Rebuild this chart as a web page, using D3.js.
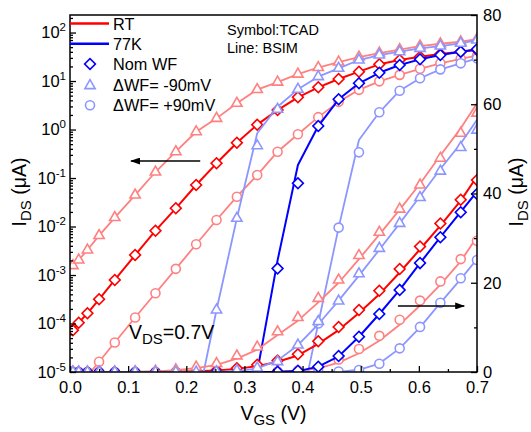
<!DOCTYPE html>
<html>
<head>
<meta charset="utf-8">
<script src="https://cdn.jsdelivr.net/npm/d3@7"></script>
<style>
body { margin: 0; background: #fff; }
svg { font-family: "Liberation Sans", Arial, sans-serif; }
</style>
</head>
<body>
<svg width="531" height="432"></svg>
<script>
// VGS sweep points (V), shared by every curve
var vgs = [0.005, 0.015, 0.03, 0.05, 0.077, 0.112, 0.147, 0.182, 0.217, 0.252, 0.287, 0.322,
    0.357, 0.392, 0.427, 0.462, 0.497, 0.532, 0.567, 0.602, 0.637, 0.672, 0.70];

// left axis (log scale), IDS in uA. TCAD = symbols, BSIM = lines
var logRtNom = [7.3e-5, 1.04e-4, 1.62e-4, 3.15e-4, 7.9e-4, 2.58e-3, 8.2e-3, 0.0237, 0.0718, 0.201, 0.535, 1.26,
    2.52, 4.61, 7.42, 11.0, 15.6, 22.1, 27.1, 31.7, 36.1, 40.2, 43.6];
var logRtNomLine = logRtNom;
var logRtM90 = [1.56e-3, 2.04e-3, 3.28e-3, 6.5e-3, 0.0153, 0.0446, 0.133, 0.349, 0.90, 1.70, 3.47, 6.68,
    9.5, 13.9, 19.0, 24.6, 31.2, 37.8, 44.6, 52.7, 58.7, 64.6, 73.4];
var logRtM90Line = logRtM90;
var logRtP90 = [3.5e-6, 5e-6, 8.3e-6, 1.63e-5, 4.06e-5, 1.33e-4, 4.2e-4, 1.34e-3, 4.3e-3, 0.0136, 0.0412, 0.115,
    0.349, 0.80, 1.80, 3.72, 6.59, 9.86, 13.4, 17.9, 23.2, 28.7, 33.3];
var logRtP90Line = logRtP90;
var log77Nom = [1e-8, 1e-8, 1e-8, 1e-8, 1e-8, 1e-8, 1e-8, 1e-8, 1e-8, 1e-8, 1e-8, 1e-8,
    1.37e-3, 0.0778, 1.18, 4.20, 8.97, 14.8, 21.4, 28.0, 34.4, 40.2, 45.0];
var log77NomLine = [1e-8, 1e-8, 1e-8, 1e-8, 1e-8, 1e-8, 1e-8, 1e-8, 1e-8, 1e-8, 1e-8, 1e-5,
    2.0e-3, 0.185, 1.18, 4.20, 8.97, 14.8, 21.4, 28.0, 34.4, 40.2, 45.0];
var log77M90 = [1e-8, 1e-8, 1e-8, 1e-8, 1e-8, 1e-8, 1e-8, 1e-8, 1.8e-6, 1.9e-4, 0.0148, 0.463,
    2.61, 6.75, 12.3, 18.3, 27.1, 34.4, 40.2, 47.2, 52.7, 59.9, 70.0];
var log77M90Line = [1e-8, 1e-8, 1e-8, 1e-8, 1e-8, 1e-8, 1e-8, 1e-8, 1.8e-6, 1.9e-4, 0.0148, 0.835,
    2.95, 6.75, 12.3, 18.3, 27.1, 34.4, 40.2, 47.2, 52.7, 59.9, 70.0];
var log77P90 = [1e-8, 1e-8, 1e-8, 1e-8, 1e-8, 1e-8, 1e-8, 1e-8, 1e-8, 1e-8, 1e-8, 1e-8,
    1e-8, 1.05e-6, 1.0e-4, 9.5e-3, 0.339, 2.27, 6.31, 11.4, 17.4, 23.2, 29.4];
var log77P90Line = [1e-8, 1e-8, 1e-8, 1e-8, 1e-8, 1e-8, 1e-8, 1e-8, 1e-8, 1e-8, 1e-8, 1e-8,
    1e-8, 1.05e-6, 1.0e-4, 9.5e-3, 0.608, 2.27, 6.31, 11.4, 17.4, 23.2, 29.4];

// right axis (linear scale), IDS in uA
var linRtNom = [0, 0, 0, 0, 0, 0, 0.04, 0.1, 0.2, 0.4, 0.83, 1.6,
    2.6, 4.0, 6.9, 10.1, 13.9, 18.2, 23.1, 28.1, 33.3, 38.6, 43.0];
var linRtNomLine = [0, 0, 0, 0, 0, 0, 0.03, 0.08, 0.18, 0.36, 0.7, 1.3,
    2.3, 3.7, 6.3, 9.4, 13.2, 17.4, 22.3, 27.5, 32.8, 38.4, 43.8];
var linRtM90 = [0, 0, 0, 0, 0, 0.05, 0.2, 0.5, 1.1, 1.9, 3.6, 5.6,
    9.0, 12.2, 16.5, 20.6, 26.1, 31.3, 36.5, 41.9, 47.9, 53.5, 58.0];
var linRtM90Line = [0, 0, 0, 0, 0.01, 0.04, 0.15, 0.4, 0.85, 1.6, 3.0, 5.0,
    8.3, 11.5, 15.6, 20.0, 25.3, 30.8, 36.4, 42.2, 48.5, 54.6, 60.2];
var linRtP90 = [0, 0, 0, 0, 0, 0, 0, 0, 0, 0, 0, 0.05,
    0.1, 0.3, 0.85, 2.8, 5.15, 8.1, 11.7, 16.0, 20.3, 25.3, 29.4];
var linRtP90Line = [0, 0, 0, 0, 0, 0, 0, 0, 0, 0, 0, 0.02,
    0.08, 0.25, 0.8, 2.1, 4.2, 7.0, 10.6, 14.9, 19.6, 24.8, 30.3];
var lin77Nom = [0, 0, 0, 0, 0, 0, 0, 0, 0, 0, 0, 0,
    0.05, 0.3, 1.19, 3.59, 7.9, 13.0, 18.4, 24.4, 30.2, 35.8, 39.9];
var lin77NomLine = [0, 0, 0, 0, 0, 0, 0, 0, 0, 0, 0, 0,
    0.03, 0.2, 1.2, 3.5, 7.9, 13.0, 18.4, 24.4, 30.2, 35.9, 40.4];
var lin77M90 = [0, 0, 0, 0, 0, 0, 0, 0, 0, 0.05, 0.3, 0.9,
    2.31, 6.05, 11.3, 15.9, 22.0, 27.7, 33.3, 39.1, 45.0, 50.3, 54.2];
var lin77M90Line = [0, 0, 0, 0, 0, 0, 0, 0, 0, 0.02, 0.2, 0.8,
    2.6, 6.0, 10.7, 16.0, 21.6, 27.4, 33.3, 39.4, 45.5, 51.2, 56.5];
var lin77P90 = [0, 0, 0, 0, 0, 0, 0, 0, 0, 0, 0, 0,
    0, 0, 0, 0.1, 0.45, 1.84, 5.3, 10.1, 15.5, 21.0, 25.1];
var lin77P90Line = [0, 0, 0, 0, 0, 0, 0, 0, 0, 0, 0, 0,
    0, 0, 0, 0.05, 0.5, 1.9, 5.3, 10.0, 15.5, 20.8, 25.3];

// tick labels
var xTicks = [0, 0.1, 0.2, 0.3, 0.4, 0.5, 0.6, 0.7];
var xMinor = [0.05, 0.15, 0.25, 0.35, 0.45, 0.55, 0.65];
var logTicks = [1e-5, 1e-4, 1e-3, 1e-2, 1e-1, 1, 10, 100];
var linTicks = [0, 20, 40, 60, 80];
var linMinor = [10, 30, 50, 70];

// legend entries
var legendLines = ["RT", "77K"];
var legendSymbols = ["Nom WF", "\u0394WF= -90mV", "\u0394WF= +90mV"];

var red = "#ff0000", blue = "#0000ff", lightRed = "#ff8080", lightBlue = "#8c96ff";

//plot area
var plotL = 70, plotR = 477, plotT = 15, plotB = 372;

var x = d3.scaleLinear().domain([0, 0.7]).range([plotL, plotR]);
var yLog = d3.scaleLog().domain([1e-5, 230]).range([plotB, plotT]);
var yLin = d3.scaleLinear().domain([0, 80]).range([plotB, plotT]);

var svg = d3.select("svg");

svg.append("defs").append("clipPath").attr("id", "clip")
    .append("rect")
    .attr("x", plotL).attr("y", plotT)
    .attr("width", plotR - plotL).attr("height", plotB - plotT);

svg.select("defs").append("marker")
    .attr("id", "head")
    .attr("markerUnits", "userSpaceOnUse")
    .attr("markerWidth", 10).attr("markerHeight", 7)
    .attr("refX", 9).attr("refY", 3.5)
    .attr("orient", "auto")
    .append("path").attr("d", "M0,0L10,3.5L0,7Z").attr("fill", "#000");

var shapes = {
    circle: d3.symbol().type(d3.symbolCircle).size(64),
    diamond: d3.symbol().type(d3.symbolSquare).size(58),
    triangle: d3.symbol().type(d3.symbolTriangle).size(46)
};

// draw order: circles, diamonds, triangles
var curves = [
    { sym: logRtP90, line: logRtP90Line, y: yLog, color: lightRed, shape: "circle", w: 1.8 },
    { sym: log77P90, line: log77P90Line, y: yLog, color: lightBlue, shape: "circle", w: 1.8 },
    { sym: linRtP90, line: linRtP90Line, y: yLin, color: lightRed, shape: "circle", w: 1.8 },
    { sym: lin77P90, line: lin77P90Line, y: yLin, color: lightBlue, shape: "circle", w: 1.8 },
    { sym: logRtNom, line: logRtNomLine, y: yLog, color: red, shape: "diamond", w: 2 },
    { sym: log77Nom, line: log77NomLine, y: yLog, color: blue, shape: "diamond", w: 2 },
    { sym: linRtNom, line: linRtNomLine, y: yLin, color: red, shape: "diamond", w: 2 },
    { sym: lin77Nom, line: lin77NomLine, y: yLin, color: blue, shape: "diamond", w: 2 },
    { sym: logRtM90, line: logRtM90Line, y: yLog, color: lightRed, shape: "triangle", w: 1.8 },
    { sym: log77M90, line: log77M90Line, y: yLog, color: lightBlue, shape: "triangle", w: 1.8 },
    { sym: linRtM90, line: linRtM90Line, y: yLin, color: lightRed, shape: "triangle", w: 1.8 },
    { sym: lin77M90, line: lin77M90Line, y: yLin, color: lightBlue, shape: "triangle", w: 1.8 }
];

var plot = svg.append("g").attr("clip-path", "url(#clip)");

curves.forEach(function (c) {
    var g = plot.append("g");
    var path = d3.line()
        .x(function (d, i) { return x(vgs[i]); })
        .y(function (d) { return c.y(d); });
    g.append("path")
        .attr("d", path(c.line))
        .attr("fill", "none")
        .attr("stroke", c.color)
        .attr("stroke-width", c.w)
        .attr("stroke-linejoin", "round");

    var pts = c.sym.map(function (d, i) { return { v: vgs[i], i: d }; })
        .filter(function (d) { return c.y === yLin || d.i >= 1e-5; });
    g.selectAll("path.sym")
        .data(pts)
        .enter()
        .append("path")
        .attr("class", "sym")
        .attr("d", shapes[c.shape])
        .attr("transform", function (d) {
            return "translate(" + x(d.v) + "," + c.y(d.i) + ")" + (c.shape == "diamond" ? " rotate(45)" : "");
        })
        .attr("fill", "#fff")
        .attr("stroke", c.color)
        .attr("stroke-width", 1.6);
});

// axes, ticks inside like Origin
var tickFont = 16.5;

var gx = svg.append("g")
    .attr("transform", "translate(0," + plotB + ")")
    .call(d3.axisBottom(x).tickValues(xTicks).tickFormat(d3.format(".1f"))
        .tickSizeInner(-6).tickSizeOuter(0).tickPadding(9.5));
svg.append("g")
    .attr("transform", "translate(0," + plotB + ")")
    .call(d3.axisBottom(x).tickValues(xMinor).tickFormat("").tickSizeInner(-3).tickSizeOuter(0));

var gl = svg.append("g")
    .attr("transform", "translate(" + plotL + ",0)")
    .call(d3.axisLeft(yLog).tickValues(logTicks).tickSizeInner(-6).tickSizeOuter(0).tickPadding(4));
var logMinor = [];
logTicks.forEach(function (t) {
    for (var k = 2; k < 10; k++) {
        if (t * k <= 230) logMinor.push(t * k);
    }
});
svg.append("g")
    .attr("transform", "translate(" + plotL + ",0)")
    .call(d3.axisLeft(yLog).tickValues(logMinor).tickFormat("").tickSizeInner(-3).tickSizeOuter(0));

var gr = svg.append("g")
    .attr("transform", "translate(" + plotR + ",0)")
    .call(d3.axisRight(yLin).tickValues(linTicks).tickSizeInner(-6).tickSizeOuter(0).tickPadding(6));
svg.append("g")
    .attr("transform", "translate(" + plotR + ",0)")
    .call(d3.axisRight(yLin).tickValues(linMinor).tickFormat("").tickSizeInner(-3).tickSizeOuter(0));

svg.selectAll(".domain").remove();
svg.selectAll(".tick line").attr("stroke", "#000").attr("stroke-width", 1.3);
svg.selectAll(".tick text")
    .attr("font-family", "'Liberation Sans', Arial, sans-serif")
    .attr("font-size", tickFont)
    .attr("fill", "#000");

// 10^n labels
gl.selectAll(".tick text").each(function (d) {
    var t = d3.select(this).text("");
    t.append("tspan").text("10");
    t.append("tspan").attr("dy", -7).attr("font-size", 11.5).text(Math.round(Math.log10(d)));
});

// frame
svg.append("rect")
    .attr("x", plotL).attr("y", plotT)
    .attr("width", plotR - plotL).attr("height", plotB - plotT)
    .attr("fill", "none").attr("stroke", "#000").attr("stroke-width", 1.5);

// axis titles
function subText(g, parts) {
    parts.forEach(function (p) {
        g.append("tspan").attr("font-size", p[1]).attr("dy", p[2]).text(p[0]);
    });
}
var xt = svg.append("text").attr("x", (plotL + plotR) / 2).attr("y", 420).attr("text-anchor", "middle");
subText(xt, [["V", 19.5, 0], ["GS", 15, 5], [" (V)", 19.5, -5]]);

var ylt = svg.append("text").attr("text-anchor", "middle")
    .attr("transform", "translate(26,192) rotate(-90)");
subText(ylt, [["I", 19.5, 0], ["DS", 15, 5], [" (\u03bcA)", 19.5, -5]]);

var yrt = svg.append("text").attr("text-anchor", "middle")
    .attr("transform", "translate(523,192) rotate(-90)");
subText(yrt, [["I", 19.5, 0], ["DS", 15, 5], [" (\u03bcA)", 19.5, -5]]);

var vds = svg.append("text").attr("x", 129).attr("y", 339);
subText(vds, [["V", 19.5, 0], ["DS", 15, 5], ["=0.7V", 19.5, -5]]);

// arrows pointing to the axis each family belongs to
var arrowLog = { v0: 0.224, v1: 0.105, i: 0.224 };
var arrowLin = { v0: 0.564, v1: 0.678, i: 14.8 };
svg.append("line")
    .attr("x1", x(arrowLog.v0)).attr("x2", x(arrowLog.v1))
    .attr("y1", yLog(arrowLog.i)).attr("y2", yLog(arrowLog.i))
    .attr("stroke", "#000").attr("stroke-width", 1.5).attr("marker-end", "url(#head)");
svg.append("line")
    .attr("x1", x(arrowLin.v0)).attr("x2", x(arrowLin.v1))
    .attr("y1", yLin(arrowLin.i)).attr("y2", yLin(arrowLin.i))
    .attr("stroke", "#000").attr("stroke-width", 1.5).attr("marker-end", "url(#head)");

// legend
var legend = svg.append("g").attr("font-size", 16.3);
var legColors = [red, blue];
legendLines.forEach(function (name, i) {
    var yy = 23.5 + i * 20.3;
    legend.append("line")
        .attr("x1", plotL).attr("x2", 109).attr("y1", yy).attr("y2", yy)
        .attr("stroke", legColors[i]).attr("stroke-width", 2.5);
    legend.append("text").attr("x", 113).attr("y", yy + 6).text(name);
});
var legShapes = ["diamond", "triangle", "circle"];
var legSymColors = [blue, lightBlue, lightBlue];
legendSymbols.forEach(function (name, i) {
    var yy = 64 + i * 20.6;
    legend.append("path")
        .attr("d", shapes[legShapes[i]])
        .attr("transform", "translate(90," + (yy + (legShapes[i] == "triangle" ? 1 : 0)) + ")" + (legShapes[i] == "diamond" ? " rotate(45)" : ""))
        .attr("fill", "#fff").attr("stroke", legSymColors[i]).attr("stroke-width", 1.6);
    legend.append("text").attr("x", 113).attr("y", yy + 6).text(name);
});

svg.append("text").attr("x", 227).attr("y", 35).attr("font-size", 14.5).text("Symbol:TCAD");
svg.append("text").attr("x", 227).attr("y", 53).attr("font-size", 14.5).text("Line: BSIM");
</script>
</body>
</html>
